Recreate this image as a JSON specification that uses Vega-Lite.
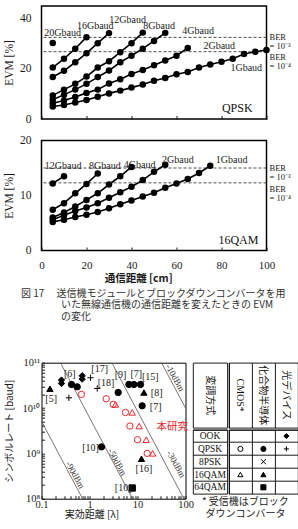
{
  "$schema": "https://vega.github.io/schema/vega-lite/v6.json",
  "background": "white",
  "padding": {"left": 2.5, "top": 5, "right": 0, "bottom": 0},
  "config": {
    "font": "Liberation Serif",
    "view": {"stroke": "black", "strokeWidth": 1.5},
    "axis": {
      "grid": false, "domain": false,
      "labelFont": "Liberation Serif", "titleFont": "Liberation Serif",
      "labelColor": "#1a1a1a", "titleColor": "#1a1a1a", "tickColor": "#1a1a1a",
      "titleFontWeight": "normal", "labelOverlap": false, "labelFlush": false
    },
    "title": {"font": "Noto Sans CJK JP", "fontWeight": "normal", "color": "#333"}
  },
  "datasets": {
    "qpsk": [
      {"rate": "20Gbaud", "dist": 5, "evm": 30.3},
      {"rate": "16Gbaud", "dist": 5, "evm": 20.5}, {"rate": "16Gbaud", "dist": 10, "evm": 24.0},
      {"rate": "16Gbaud", "dist": 15, "evm": 28.0}, {"rate": "16Gbaud", "dist": 20, "evm": 32.6},
      {"rate": "12Gbaud", "dist": 5, "evm": 16.7}, {"rate": "12Gbaud", "dist": 10, "evm": 19.2},
      {"rate": "12Gbaud", "dist": 15, "evm": 22.6}, {"rate": "12Gbaud", "dist": 20, "evm": 26.2},
      {"rate": "12Gbaud", "dist": 25, "evm": 30.2}, {"rate": "12Gbaud", "dist": 30, "evm": 34.2},
      {"rate": "8Gbaud", "dist": 5, "evm": 9.4}, {"rate": "8Gbaud", "dist": 10, "evm": 11.7},
      {"rate": "8Gbaud", "dist": 15, "evm": 14.0}, {"rate": "8Gbaud", "dist": 20, "evm": 16.9},
      {"rate": "8Gbaud", "dist": 25, "evm": 20.5}, {"rate": "8Gbaud", "dist": 30, "evm": 23.0},
      {"rate": "8Gbaud", "dist": 35, "evm": 26.6}, {"rate": "8Gbaud", "dist": 40, "evm": 30.2},
      {"rate": "8Gbaud", "dist": 45, "evm": 34.4},
      {"rate": "4Gbaud", "dist": 5, "evm": 7.7}, {"rate": "4Gbaud", "dist": 10, "evm": 9.7},
      {"rate": "4Gbaud", "dist": 15, "evm": 11.7}, {"rate": "4Gbaud", "dist": 20, "evm": 14.0},
      {"rate": "4Gbaud", "dist": 25, "evm": 16.7}, {"rate": "4Gbaud", "dist": 30, "evm": 19.3},
      {"rate": "4Gbaud", "dist": 35, "evm": 22.6}, {"rate": "4Gbaud", "dist": 40, "evm": 25.2},
      {"rate": "4Gbaud", "dist": 45, "evm": 28.0}, {"rate": "4Gbaud", "dist": 50, "evm": 31.1},
      {"rate": "4Gbaud", "dist": 55, "evm": 34.3},
      {"rate": "2Gbaud", "dist": 5, "evm": 6.3}, {"rate": "2Gbaud", "dist": 10, "evm": 7.4},
      {"rate": "2Gbaud", "dist": 15, "evm": 8.8}, {"rate": "2Gbaud", "dist": 20, "evm": 10.4},
      {"rate": "2Gbaud", "dist": 25, "evm": 11.7}, {"rate": "2Gbaud", "dist": 30, "evm": 14.1},
      {"rate": "2Gbaud", "dist": 35, "evm": 15.8}, {"rate": "2Gbaud", "dist": 40, "evm": 17.9},
      {"rate": "2Gbaud", "dist": 45, "evm": 19.5}, {"rate": "2Gbaud", "dist": 50, "evm": 21.4},
      {"rate": "2Gbaud", "dist": 55, "evm": 23.3}, {"rate": "2Gbaud", "dist": 60, "evm": 25.2},
      {"rate": "2Gbaud", "dist": 65, "evm": 28.3},
      {"rate": "1Gbaud", "dist": 5, "evm": 5.0}, {"rate": "1Gbaud", "dist": 10, "evm": 5.6},
      {"rate": "1Gbaud", "dist": 15, "evm": 6.6}, {"rate": "1Gbaud", "dist": 20, "evm": 7.6},
      {"rate": "1Gbaud", "dist": 25, "evm": 8.9}, {"rate": "1Gbaud", "dist": 30, "evm": 10.2},
      {"rate": "1Gbaud", "dist": 35, "evm": 11.3}, {"rate": "1Gbaud", "dist": 40, "evm": 12.5},
      {"rate": "1Gbaud", "dist": 45, "evm": 13.7}, {"rate": "1Gbaud", "dist": 50, "evm": 15.2},
      {"rate": "1Gbaud", "dist": 55, "evm": 16.3}, {"rate": "1Gbaud", "dist": 60, "evm": 17.8},
      {"rate": "1Gbaud", "dist": 65, "evm": 18.7}, {"rate": "1Gbaud", "dist": 70, "evm": 20.5},
      {"rate": "1Gbaud", "dist": 75, "evm": 21.7}, {"rate": "1Gbaud", "dist": 80, "evm": 22.8},
      {"rate": "1Gbaud", "dist": 85, "evm": 24.0}, {"rate": "1Gbaud", "dist": 90, "evm": 25.9},
      {"rate": "1Gbaud", "dist": 95, "evm": 26.8}, {"rate": "1Gbaud", "dist": 100, "evm": 27.5}
    ],
    "qpskLabels": [
      {"rate": "20Gbaud", "dist": 9.4, "evm": 34.3},
      {"rate": "16Gbaud", "dist": 23.9, "evm": 36.9},
      {"rate": "12Gbaud", "dist": 38.3, "evm": 39.3},
      {"rate": "8Gbaud", "dist": 52.3, "evm": 37.2},
      {"rate": "4Gbaud", "dist": 69.6, "evm": 34.9},
      {"rate": "2Gbaud", "dist": 79, "evm": 29.2},
      {"rate": "1Gbaud", "dist": 91, "evm": 20.3}
    ],
    "qpskBer": [
      {"exp": "-3", "evm": 32.5, "label": "BER\n= 10⁻³"},
      {"exp": "-4", "evm": 26.8, "label": "BER\n= 10⁻⁴"}
    ],
    "qam": [
      {"rate": "12Gbaud", "dist": 5, "evm": 12.2}, {"rate": "12Gbaud", "dist": 10, "evm": 13.5},
      {"rate": "8Gbaud", "dist": 5, "evm": 7.4}, {"rate": "8Gbaud", "dist": 10, "evm": 8.6},
      {"rate": "8Gbaud", "dist": 15, "evm": 10.4}, {"rate": "8Gbaud", "dist": 20, "evm": 12.1},
      {"rate": "8Gbaud", "dist": 25, "evm": 14.0},
      {"rate": "4Gbaud", "dist": 5, "evm": 6.0}, {"rate": "4Gbaud", "dist": 10, "evm": 6.9},
      {"rate": "4Gbaud", "dist": 15, "evm": 8.0}, {"rate": "4Gbaud", "dist": 20, "evm": 9.2},
      {"rate": "4Gbaud", "dist": 25, "evm": 10.4}, {"rate": "4Gbaud", "dist": 30, "evm": 12.0},
      {"rate": "4Gbaud", "dist": 35, "evm": 13.5}, {"rate": "4Gbaud", "dist": 40, "evm": 15.2},
      {"rate": "2Gbaud", "dist": 5, "evm": 5.6}, {"rate": "2Gbaud", "dist": 10, "evm": 6.4},
      {"rate": "2Gbaud", "dist": 15, "evm": 7.2}, {"rate": "2Gbaud", "dist": 20, "evm": 7.8},
      {"rate": "2Gbaud", "dist": 25, "evm": 8.6}, {"rate": "2Gbaud", "dist": 30, "evm": 9.6},
      {"rate": "2Gbaud", "dist": 35, "evm": 10.6}, {"rate": "2Gbaud", "dist": 40, "evm": 11.6},
      {"rate": "2Gbaud", "dist": 45, "evm": 12.8}, {"rate": "2Gbaud", "dist": 50, "evm": 14.3},
      {"rate": "2Gbaud", "dist": 55, "evm": 15.6},
      {"rate": "1Gbaud", "dist": 5, "evm": 5.2}, {"rate": "1Gbaud", "dist": 10, "evm": 5.6},
      {"rate": "1Gbaud", "dist": 15, "evm": 6.1}, {"rate": "1Gbaud", "dist": 20, "evm": 6.5},
      {"rate": "1Gbaud", "dist": 25, "evm": 7.0}, {"rate": "1Gbaud", "dist": 30, "evm": 7.7},
      {"rate": "1Gbaud", "dist": 35, "evm": 8.4}, {"rate": "1Gbaud", "dist": 40, "evm": 9.1},
      {"rate": "1Gbaud", "dist": 45, "evm": 9.8}, {"rate": "1Gbaud", "dist": 50, "evm": 10.5},
      {"rate": "1Gbaud", "dist": 55, "evm": 11.4}, {"rate": "1Gbaud", "dist": 60, "evm": 12.2},
      {"rate": "1Gbaud", "dist": 65, "evm": 13.0}, {"rate": "1Gbaud", "dist": 70, "evm": 14.1},
      {"rate": "1Gbaud", "dist": 75, "evm": 15.4}
    ],
    "qamLabels": [
      {"rate": "12Gbaud", "dist": 9.6, "evm": 15.3},
      {"rate": "8Gbaud", "dist": 28.2, "evm": 15.3},
      {"rate": "4Gbaud", "dist": 43.6, "evm": 15.6},
      {"rate": "2Gbaud", "dist": 60.6, "evm": 16.4},
      {"rate": "1Gbaud", "dist": 84.5, "evm": 16.4}
    ],
    "qamBer": [
      {"exp": "-3", "evm": 15.0, "label": "BER\n= 10⁻³"},
      {"exp": "-4", "evm": 12.3, "label": "BER\n= 10⁻⁴"}
    ],
    "power": [
      {"p": "-90dBm", "d": 0.1, "r": 5130000000}, {"p": "-90dBm", "d": 0.716, "r": 100000000},
      {"p": "-50dBm", "d": 0.248, "r": 100000000000}, {"p": "-50dBm", "d": 7.85, "r": 100000000},
      {"p": "-30dBm", "d": 2.92, "r": 100000000000}, {"p": "-30dBm", "d": 92.3, "r": 100000000},
      {"p": "-10dBm", "d": 31.6, "r": 100000000000}, {"p": "-10dBm", "d": 100, "r": 10000000000}
    ],
    "powerLabels": [
      {"p": "-10dBm", "d": 61, "r": 46600000000},
      {"p": "-30dBm", "d": 64, "r": 580000000},
      {"p": "-50dBm", "d": 3.78, "r": 646000000},
      {"p": "-90dBm", "d": 0.503, "r": 333000000}
    ],
    "rates": [
      {"type": "16QAM-化合物", "d": 0.15, "r": 26600000000},
      {"type": "QPSK-光", "d": 0.372, "r": 16800000000},
      {"type": "OOK-光", "d": 0.261, "r": 41400000000},
      {"type": "OOK-光", "d": 0.261, "r": 34800000000},
      {"type": "OOK-光", "d": 0.705, "r": 51500000000},
      {"type": "OOK-光", "d": 0.705, "r": 43500000000},
      {"type": "QPSK-化合物", "d": 0.422, "r": 33100000000},
      {"type": "QPSK-化合物", "d": 0.555, "r": 29400000000},
      {"type": "QPSK-光", "d": 1.05, "r": 46600000000},
      {"type": "QPSK-光", "d": 1.45, "r": 27000000000},
      {"type": "QPSK-化合物", "d": 3.96, "r": 22000000000},
      {"type": "QPSK-化合物", "d": 6.62, "r": 33100000000},
      {"type": "QPSK-化合物", "d": 8.41, "r": 33100000000},
      {"type": "QPSK-化合物", "d": 11.55, "r": 33100000000},
      {"type": "16QAM-化合物", "d": 13.6, "r": 22000000000},
      {"type": "QPSK-化合物", "d": 12.5, "r": 11200000000},
      {"type": "QPSK-化合物", "d": 1.78, "r": 1390000000},
      {"type": "16QAM-化合物", "d": 12.1, "r": 760000000},
      {"type": "64QAM-化合物", "d": 7.76, "r": 172000000},
      {"type": "QPSK-CMOS", "d": 0.68, "r": 20000000000},
      {"type": "QPSK-CMOS", "d": 2.23, "r": 16000000000},
      {"type": "QPSK-CMOS", "d": 3.12, "r": 12000000000},
      {"type": "QPSK-CMOS", "d": 5.62, "r": 8000000000},
      {"type": "QPSK-CMOS", "d": 6.95, "r": 4000000000},
      {"type": "QPSK-CMOS", "d": 10, "r": 2000000000},
      {"type": "QPSK-CMOS", "d": 15.9, "r": 1000000000},
      {"type": "16QAM-CMOS", "d": 3.48, "r": 12000000000},
      {"type": "16QAM-CMOS", "d": 7.76, "r": 8000000000},
      {"type": "16QAM-CMOS", "d": 10.8, "r": 4000000000},
      {"type": "16QAM-CMOS", "d": 15.2, "r": 2000000000},
      {"type": "16QAM-CMOS", "d": 20.7, "r": 1000000000}
    ],
    "refs": [
      {"ref": "[5]", "d": 0.159, "r": 16200000000},
      {"ref": "[6]", "d": 0.387, "r": 55000000000},
      {"ref": "[17]", "d": 1.63, "r": 71000000000},
      {"ref": "[18]", "d": 2.21, "r": 34900000000},
      {"ref": "[9]", "d": 4.42, "r": 53000000000},
      {"ref": "[7]", "d": 9.4, "r": 55000000000},
      {"ref": "[15]", "d": 18.4, "r": 49000000000},
      {"ref": "[8]", "d": 25.1, "r": 22000000000},
      {"ref": "[7]", "d": 23.9, "r": 10600000000},
      {"ref": "[10]", "d": 1.05, "r": 1320000000},
      {"ref": "[16]", "d": 13.6, "r": 445000000},
      {"ref": "[10]", "d": 5.03, "r": 172000000}
    ],
    "tableMarks": [
      {"mod": "OOK", "dev": "光デバイス", "type": "OOK-光"},
      {"mod": "QPSK", "dev": "CMOS*", "type": "QPSK-CMOS"},
      {"mod": "QPSK", "dev": "化合物半導体", "type": "QPSK-化合物"},
      {"mod": "QPSK", "dev": "光デバイス", "type": "QPSK-光"},
      {"mod": "8PSK", "dev": "化合物半導体", "type": "8PSK-化合物"},
      {"mod": "16QAM", "dev": "CMOS*", "type": "16QAM-CMOS"},
      {"mod": "16QAM", "dev": "化合物半導体", "type": "16QAM-化合物"},
      {"mod": "64QAM", "dev": "化合物半導体", "type": "64QAM-化合物"}
    ]
  },
  "spacing": 3.7,
  "vconcat": [
    {
      "spacing": 7.5,
      "vconcat": [
        {
          "width": 225,
          "height": 113,
          "layer": [
            {
              "data": {"name": "qpskBer"},
              "mark": {"type": "rule", "strokeDash": [3, 2], "strokeWidth": 0.8, "color": "#222"},
              "encoding": {
                "y": {
                  "field": "evm", "type": "quantitative",
                  "scale": {"domain": [0, 45], "nice": false},
                  "axis": {
                    "values": [0, 10, 20, 30, 40], "ticks": false, "labelPadding": 10.5,
                    "labelFontSize": 11.5, "title": "EVM [%]", "titleFontSize": 11.5,
                    "titleX": -32, "titleY": 56.5, "titleBaseline": "middle"
                  }
                }
              }
            },
            {
              "data": {"name": "qpsk"},
              "mark": {"type": "line", "color": "black", "strokeWidth": 1.6},
              "encoding": {
                "x": {
                  "field": "dist", "type": "quantitative",
                  "scale": {"domain": [0, 100], "nice": false},
                  "axis": {"values": [0, 20, 40, 60, 80, 100], "labels": false, "title": null, "tickSize": -3.5}
                },
                "y": {"field": "evm", "type": "quantitative"},
                "detail": {"field": "rate"}
              }
            },
            {
              "data": {"name": "qpsk"},
              "mark": {"type": "circle", "color": "black", "size": 42, "opacity": 1},
              "encoding": {
                "x": {"field": "dist", "type": "quantitative"},
                "y": {"field": "evm", "type": "quantitative"}
              }
            },
            {
              "data": {"name": "qpskLabels"},
              "mark": {"type": "text", "fontSize": 10, "color": "#222"},
              "encoding": {
                "x": {"field": "dist", "type": "quantitative"},
                "y": {"field": "evm", "type": "quantitative"},
                "text": {"field": "rate"}
              }
            },
            {
              "data": {"name": "qpskBer"},
              "transform": [{"filter": "datum.exp == '-3'"}],
              "mark": {"type": "text", "align": "left", "dx": 3, "fontSize": 8.5, "lineBreak": "\n", "lineHeight": 9, "color": "#222"},
              "encoding": {
                "x": {"datum": 100, "type": "quantitative"},
                "y": {"field": "evm", "type": "quantitative"},
                "text": {"field": "label"}
              }
            },
            {
              "data": {"name": "qpskBer"},
              "transform": [{"filter": "datum.exp == '-4'"}],
              "mark": {"type": "text", "align": "left", "dx": 3, "dy": 5, "fontSize": 8.5, "lineBreak": "\n", "lineHeight": 9, "color": "#222"},
              "encoding": {
                "x": {"datum": 100, "type": "quantitative"},
                "y": {"field": "evm", "type": "quantitative"},
                "text": {"field": "label"}
              }
            },
            {
              "data": {"values": [{"panel": "QPSK"}]},
              "mark": {"type": "text", "fontSize": 12, "color": "#111"},
              "encoding": {
                "x": {"datum": 87, "type": "quantitative"},
                "y": {"datum": 4.4, "type": "quantitative"},
                "text": {"field": "panel"}
              }
            }
          ]
        },
        {
          "width": 225,
          "height": 110,
          "layer": [
            {
              "data": {"name": "qamBer"},
              "mark": {"type": "rule", "strokeDash": [3, 2], "strokeWidth": 0.8, "color": "#222"},
              "encoding": {
                "y": {
                  "field": "evm", "type": "quantitative",
                  "scale": {"domain": [0, 20], "nice": false},
                  "axis": {
                    "values": [0, 5, 10, 15, 20], "ticks": false, "labelPadding": 10.5,
                    "labelFontSize": 11.5, "title": "EVM [%]", "titleFontSize": 11.5,
                    "titleX": -32, "titleY": 55, "titleBaseline": "middle"
                  }
                }
              }
            },
            {
              "data": {"name": "qam"},
              "mark": {"type": "line", "color": "black", "strokeWidth": 1.6},
              "encoding": {
                "x": {
                  "field": "dist", "type": "quantitative",
                  "scale": {"domain": [0, 100], "nice": false},
                  "axis": {
                    "values": [0, 20, 40, 60, 80, 100], "tickSize": -3.5, "labelPadding": 12.5,
                    "labelFontSize": 11, "title": "通信距離 [cm]", "titleFont": "Noto Sans CJK JP",
                    "titleFontWeight": "bold", "titleFontSize": 10.5, "titleX": 96.7, "titleY": 27.8,
                    "titleBaseline": "middle"
                  }
                },
                "y": {"field": "evm", "type": "quantitative"},
                "detail": {"field": "rate"}
              }
            },
            {
              "data": {"name": "qam"},
              "mark": {"type": "circle", "color": "black", "size": 42, "opacity": 1},
              "encoding": {
                "x": {"field": "dist", "type": "quantitative"},
                "y": {"field": "evm", "type": "quantitative"}
              }
            },
            {
              "data": {"name": "qamLabels"},
              "mark": {"type": "text", "fontSize": 10, "color": "#222"},
              "encoding": {
                "x": {"field": "dist", "type": "quantitative"},
                "y": {"field": "evm", "type": "quantitative"},
                "text": {"field": "rate"}
              }
            },
            {
              "data": {"name": "qamBer"},
              "transform": [{"filter": "datum.exp == '-3'"}],
              "mark": {"type": "text", "align": "left", "dx": 3, "fontSize": 8.5, "lineBreak": "\n", "lineHeight": 9, "color": "#222"},
              "encoding": {
                "x": {"datum": 100, "type": "quantitative"},
                "y": {"field": "evm", "type": "quantitative"},
                "text": {"field": "label"}
              }
            },
            {
              "data": {"name": "qamBer"},
              "transform": [{"filter": "datum.exp == '-4'"}],
              "mark": {"type": "text", "align": "left", "dx": 3, "dy": 6.5, "fontSize": 8.5, "lineBreak": "\n", "lineHeight": 9, "color": "#222"},
              "encoding": {
                "x": {"datum": 100, "type": "quantitative"},
                "y": {"field": "evm", "type": "quantitative"},
                "text": {"field": "label"}
              }
            },
            {
              "data": {"values": [{"panel": "16QAM"}]},
              "mark": {"type": "text", "fontSize": 12, "color": "#111"},
              "encoding": {
                "x": {"datum": 87.5, "type": "quantitative"},
                "y": {"datum": 1.9, "type": "quantitative"},
                "text": {"field": "panel"}
              }
            }
          ]
        }
      ]
    },
    {
      "title": {
        "text": [
          "図 17　 送信機モジュールとブロックダウンコンバータを用",
          "\u200b　　　　いた無線通信機の通信距離を変えたときの EVM",
          "\u200b　　　　の変化"
        ],
        "orient": "top", "anchor": "start", "dx": 17, "fontSize": 10,
        "lineHeight": 11.3, "offset": 35.5, "color": "#333"
      },
      "bounds": "flush",
      "spacing": 7.4,
      "hconcat": [
        {
          "width": 144,
          "height": 136,
          "view": {"stroke": "black", "strokeWidth": 1},
          "layer": [
            {
              "data": {"name": "power"},
              "mark": {"type": "line", "color": "#555", "strokeWidth": 0.8},
              "encoding": {
                "x": {
                  "field": "d", "type": "quantitative",
                  "scale": {"type": "log", "domain": [0.1, 100]},
                  "axis": {
                    "values": [0.1, 0.2, 0.3, 0.4, 0.5, 0.6, 0.7, 0.8, 0.9, 1, 2, 3, 4, 5, 6, 7, 8, 9, 10, 20, 30, 40, 50, 60, 70, 80, 90, 100],
                    "format": "~g",
                    "labelExpr": "(datum.value == 0.1 || datum.value == 1 || datum.value == 10 || datum.value == 100) ? datum.label : ''",
                    "tickSize": -3, "labelPadding": 4, "labelFontSize": 10.5,
                    "title": "実効距離 [λ]", "titleFont": "Noto Sans CJK JP", "titleFontSize": 10,
                    "titleX": 50, "titleY": 16, "titleBaseline": "middle"
                  }
                },
                "y": {
                  "field": "r", "type": "quantitative",
                  "scale": {"type": "log", "domain": [100000000, 100000000000]},
                  "axis": {
                    "values": [100000000, 200000000, 300000000, 400000000, 500000000, 600000000, 700000000, 800000000, 900000000,
                               1000000000, 2000000000, 3000000000, 4000000000, 5000000000, 6000000000, 7000000000, 8000000000, 9000000000,
                               10000000000, 20000000000, 30000000000, 40000000000, 50000000000, 60000000000, 70000000000, 80000000000, 90000000000,
                               100000000000],
                    "labelExpr": "datum.value == 100000000 ? '10⁸' : datum.value == 1000000000 ? '10⁹' : datum.value == 10000000000 ? '10¹⁰' : datum.value == 100000000000 ? '10¹¹' : ''",
                    "tickSize": -3, "labelPadding": 4.8, "labelFontSize": 10.5,
                    "title": "シンボルレート [baud]", "titleFont": "Noto Sans CJK JP", "titleFontSize": 10,
                    "titleX": -32, "titleY": 68, "titleBaseline": "middle"
                  }
                },
                "detail": {"field": "p"}
              }
            },
            {
              "data": {"name": "powerLabels"},
              "mark": {"type": "text", "angle": 61, "fontSize": 9, "color": "#333"},
              "encoding": {
                "x": {"field": "d", "type": "quantitative"},
                "y": {"field": "r", "type": "quantitative"},
                "text": {"field": "p"}
              }
            },
            {
              "data": {"name": "rates"},
              "mark": {"type": "point", "size": 40, "strokeWidth": 1, "opacity": 1},
              "encoding": {
                "x": {"field": "d", "type": "quantitative"},
                "y": {"field": "r", "type": "quantitative"},
                "shape": {
                  "field": "type", "type": "nominal", "legend": null,
                  "scale": {
                    "domain": ["OOK-光", "QPSK-CMOS", "QPSK-化合物", "QPSK-光", "8PSK-化合物", "16QAM-CMOS", "16QAM-化合物", "64QAM-化合物"],
                    "range": ["diamond", "circle", "circle", "M-1,0H1M0,-1V1", "M-1,-1L1,1M-1,1L1,-1", "triangle-up", "triangle-up", "square"]
                  }
                },
                "fill": {
                  "field": "type", "type": "nominal", "legend": null,
                  "scale": {
                    "domain": ["OOK-光", "QPSK-CMOS", "QPSK-化合物", "QPSK-光", "8PSK-化合物", "16QAM-CMOS", "16QAM-化合物", "64QAM-化合物"],
                    "range": ["black", "transparent", "black", "transparent", "transparent", "transparent", "black", "black"]
                  }
                },
                "stroke": {
                  "field": "type", "type": "nominal", "legend": null,
                  "scale": {
                    "domain": ["OOK-光", "QPSK-CMOS", "QPSK-化合物", "QPSK-光", "8PSK-化合物", "16QAM-CMOS", "16QAM-化合物", "64QAM-化合物"],
                    "range": ["black", "#e8262a", "black", "black", "black", "#e8262a", "black", "black"]
                  }
                }
              }
            },
            {
              "data": {"name": "refs"},
              "mark": {"type": "text", "fontSize": 10, "color": "#222"},
              "encoding": {
                "x": {"field": "d", "type": "quantitative"},
                "y": {"field": "r", "type": "quantitative"},
                "text": {"field": "ref"}
              }
            },
            {
              "data": {"values": [{"label": "本研究", "d": 52.8, "r": 3840000000}]},
              "mark": {"type": "text", "fontSize": 10.5, "font": "Noto Sans CJK JP", "color": "#e8262a"},
              "encoding": {
                "x": {"field": "d", "type": "quantitative"},
                "y": {"field": "r", "type": "quantitative"},
                "text": {"field": "label"}
              }
            }
          ]
        },
        {
          "title": {
            "text": ["* 受信機はブロック", "ダウンコンバータ"],
            "orient": "bottom", "anchor": "middle", "fontSize": 10,
            "lineHeight": 12.3, "offset": 3, "color": "#222"
          },
          "columns": 2,
          "spacing": 0,
          "concat": [
            {
              "width": 34.3,
              "height": 65,
              "view": {"stroke": "black", "strokeWidth": 0.9},
              "data": {"values": [{"head": "変調方式"}]},
              "mark": {"type": "text", "angle": 90, "font": "Noto Sans CJK JP", "fontSize": 10, "color": "#111"},
              "encoding": {"text": {"field": "head"}}
            },
            {
              "width": 69,
              "height": 65,
              "view": {"stroke": "black", "strokeWidth": 0.9},
              "data": {"values": [{"head": "CMOS*"}, {"head": "化合物半導体"}, {"head": "光デバイス"}]},
              "mark": {"type": "text", "angle": 90, "font": "Liberation Serif, Noto Sans CJK JP", "fontSize": 10, "color": "#111"},
              "encoding": {
                "x": {
                  "field": "head", "type": "nominal", "sort": null,
                  "scale": {"type": "band", "paddingInner": 0, "paddingOuter": 0},
                  "axis": {"title": null, "labels": false, "ticks": false, "domain": false, "grid": true, "gridColor": "black", "gridWidth": 0.9, "bandPosition": 0}
                },
                "text": {"field": "head"}
              }
            },
            {
              "width": 34.3,
              "height": 64,
              "view": {"stroke": "black", "strokeWidth": 0.9},
              "data": {"values": [{"mod": "OOK"}, {"mod": "QPSK"}, {"mod": "8PSK"}, {"mod": "16QAM"}, {"mod": "64QAM"}]},
              "mark": {"type": "text", "fontSize": 9.5, "color": "#111"},
              "encoding": {
                "y": {
                  "field": "mod", "type": "nominal", "sort": null,
                  "scale": {"type": "band", "paddingInner": 0, "paddingOuter": 0},
                  "axis": {"title": null, "labels": false, "ticks": false, "domain": false, "grid": true, "gridColor": "black", "gridWidth": 0.9, "bandPosition": 0}
                },
                "text": {"field": "mod"}
              }
            },
            {
              "width": 69,
              "height": 64,
              "view": {"stroke": "black", "strokeWidth": 0.9},
              "data": {"name": "tableMarks"},
              "mark": {"type": "point", "size": 26, "strokeWidth": 1, "opacity": 1, "stroke": "black"},
              "encoding": {
                "x": {
                  "field": "dev", "type": "nominal",
                  "scale": {"type": "band", "domain": ["CMOS*", "化合物半導体", "光デバイス"], "paddingInner": 0, "paddingOuter": 0},
                  "axis": {"title": null, "labels": false, "ticks": false, "domain": false, "grid": true, "gridColor": "black", "gridWidth": 0.9, "bandPosition": 0}
                },
                "y": {
                  "field": "mod", "type": "nominal",
                  "scale": {"type": "band", "domain": ["OOK", "QPSK", "8PSK", "16QAM", "64QAM"], "paddingInner": 0, "paddingOuter": 0},
                  "axis": {"title": null, "labels": false, "ticks": false, "domain": false, "grid": true, "gridColor": "black", "gridWidth": 0.9, "bandPosition": 0}
                },
                "shape": {
                  "field": "type", "type": "nominal", "legend": null,
                  "scale": {
                    "domain": ["OOK-光", "QPSK-CMOS", "QPSK-化合物", "QPSK-光", "8PSK-化合物", "16QAM-CMOS", "16QAM-化合物", "64QAM-化合物"],
                    "range": ["diamond", "circle", "circle", "M-1,0H1M0,-1V1", "M-1,-1L1,1M-1,1L1,-1", "triangle-up", "triangle-up", "square"]
                  }
                },
                "fill": {
                  "field": "type", "type": "nominal", "legend": null,
                  "scale": {
                    "domain": ["OOK-光", "QPSK-CMOS", "QPSK-化合物", "QPSK-光", "8PSK-化合物", "16QAM-CMOS", "16QAM-化合物", "64QAM-化合物"],
                    "range": ["black", "transparent", "black", "transparent", "transparent", "transparent", "black", "black"]
                  }
                }
              }
            }
          ]
        }
      ]
    }
  ]
}
